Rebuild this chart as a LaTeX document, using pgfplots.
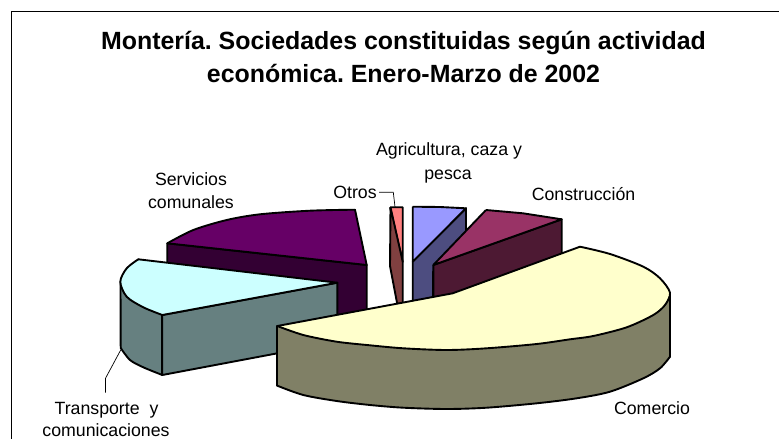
\documentclass[border=0pt]{standalone}
\usepackage{pgfplots}
\pgfplotsset{compat=1.18}
\usepackage{fontspec}
\setmainfont{Liberation Sans}
\definecolor{servT}{HTML}{660066}
\definecolor{servS}{HTML}{330033}
\definecolor{tranT}{HTML}{CCFFFF}
\definecolor{tranS}{HTML}{668080}
\definecolor{otroT}{HTML}{FF8080}
\definecolor{otroS}{HTML}{804040}
\definecolor{agriT}{HTML}{9999FF}
\definecolor{agriS}{HTML}{4D4D80}
\definecolor{consT}{HTML}{993366}
\definecolor{consS}{HTML}{4D1933}
\definecolor{comeT}{HTML}{FFFFCC}
\definecolor{comeS}{HTML}{808066}
\tikzset{
  wedge/.style={draw=black, line width=1.9pt, fill=#1, line join=round},
  area/.style={draw=none, fill=#1},
  edge/.style={draw=black, line width=1.9pt, line join=round, line cap=round},
  leader/.style={draw=black, line width=0.7pt},
  lab/.style={font=\fontsize{17.8}{20}\selectfont, text=black, anchor=base, inner sep=0pt},
  ttl/.style={font=\fontsize{25}{28}\selectfont\bfseries, text=black, anchor=base, inner sep=0pt},
}
\frenchspacing
\begin{document}
\begin{tikzpicture}
\begin{axis}[
  scale only axis, width=779bp, height=439bp,
  xmin=0, xmax=779, ymin=0, ymax=439, y dir=reverse,
  hide axis, clip=true,
]
% keep the whole image area in the bounding box
\path (axis cs:0,0) -- (axis cs:779,439);
% frame
\addplot[draw=black, line width=1pt] coordinates {(11,439) (11,11) (779,11)};

% Servicios comunales
\addplot[wedge=servS] coordinates {(167.3,243.3) (366.7,265) (366.7,322) (167.3,292) (167.3,243.3)};
\addplot[area=servT] coordinates {(167.3,243.3) (193.3,230) (226.7,220) (260,214.3) (310,210.7) (355,209.7) (366.7,265) (167.3,243.3)};
\addplot[edge, smooth] coordinates {(167.3,243.3) (193.3,230) (226.7,220) (260,214.3) (310,210.7) (355,209.7)};
\addplot[edge] coordinates {(355,209.7) (366.7,265) (167.3,243.3)};

% Transporte
\addplot[wedge=tranS] coordinates {(162.3,315) (337.3,282.7) (337.3,342) (162.3,375) (162.3,315)};
\addplot[area=tranS] coordinates {(120.3,281.7) (126.7,296.7) (143.3,307.3) (162.3,315) (162.3,375) (143.3,367.3) (130,360) (120.7,348) (120.3,281.7)};
\addplot[edge, smooth] coordinates {(120.7,348) (130,360) (143.3,367.3) (162.3,375)};
\addplot[edge] coordinates {(120.5,281.7) (120.7,348)};
\addplot[edge] coordinates {(162.3,315) (162.3,375)};
\addplot[area=tranT] coordinates {(138.3,259.3) (126.7,268.3) (120,281.7) (126.7,296.7) (143.3,307.3) (162.3,315) (337.3,282.7) (138.3,259.3)};
\addplot[edge, smooth] coordinates {(138.3,259.3) (126.7,268.3) (120.3,281.7) (126.7,296.7) (143.3,307.3) (162.3,315)};
\addplot[edge] coordinates {(162.3,315) (337.3,282.7) (138.3,259.3)};

% Otros
\addplot[wedge=otroT] coordinates {(390,207.3) (402.7,207.3) (402.7,262) (390,207.3)};
\addplot[wedge=otroS] coordinates {(390.5,207.3) (402.7,261.7) (402.7,308) (398,308) (390,266) (390.5,207.3)};

% Agricultura
\addplot[wedge=agriS] coordinates {(412.7,261.7) (466,208.3) (466,240) (433,272) (433,306) (412.7,306) (412.7,261.7)};
\addplot[wedge=agriT] coordinates {(412.7,206.7) (440,207) (466,208.3) (412.7,261.7) (412.7,206.7)};

% Construcción
\addplot[wedge=consS] coordinates {(433.3,265) (561.7,219.3) (561.7,259) (433.3,303) (433.3,265)};
\addplot[wedge=consT] coordinates {(486,210) (523,213.3) (561.7,219.3) (433.3,265) (486,210)};

% Comercio
\addplot[area=comeS] coordinates {(277.3,326) (277.3,385.7) (303.3,395) (336.7,401) (370,405) (403.3,407.7) (446.7,409) (486.7,407.7) (536.7,403.3) (576.7,398.3) (610,391.7) (643.3,378.3) (660,368.3) (670,356.7) (670,292.7) (450,345) (277.3,326)};
\addplot[edge, smooth] coordinates {(277.3,385.7) (303.3,395) (336.7,401) (370,405) (403.3,407.7) (446.7,409) (486.7,407.7) (536.7,403.3) (576.7,398.3) (610,391.7) (643.3,378.3) (660,368.3) (670,356.7)};
\addplot[edge] coordinates {(277.3,326) (277.3,385.7)};
\addplot[edge] coordinates {(670,292.7) (670,356.7)};
\addplot[area=comeT] coordinates {(277.3,326) (452.7,293.3) (580,246.7) (610,254) (643.3,266.7) (660,278.3) (670,292.7) (665,305) (653.3,315) (626.7,327.3) (593.3,336) (570,339.3) (536.7,344) (486.7,348.3) (446.7,350) (403.3,348.3) (370,345.3) (336.7,341.7) (303.3,335) (277.3,326)};
\addplot[edge, smooth] coordinates {(580,246.7) (610,254) (643.3,266.7) (660,278.3) (670,292.7) (665,305) (653.3,315) (626.7,327.3) (593.3,336) (570,339.3) (536.7,344) (486.7,348.3) (446.7,350) (403.3,348.3) (370,345.3) (336.7,341.7) (303.3,335) (277.3,326)};
\addplot[edge] coordinates {(277.3,326) (452.7,293.3) (580,246.7)};

% leader lines
\addplot[leader] coordinates {(379,192.3) (393.3,192.3) (395,207)};
\addplot[leader] coordinates {(120.7,350) (105.5,378.3) (105.5,392.7)};

% text
\node[ttl] at (axis cs:403.5,49.5) {Montería. Sociedades constituidas según actividad};
\node[ttl] at (axis cs:403.5,83) {económica. Enero-Marzo de 2002};
\node[lab] at (axis cs:449,155) {Agricultura, caza y};
\node[lab] at (axis cs:448,179) {pesca};
\node[lab] at (axis cs:583.5,200.7) {Construcción};
\node[lab] at (axis cs:355,198.3) {Otros};
\node[lab] at (axis cs:191,185) {Servicios};
\node[lab] at (axis cs:191,208) {comunales};
\node[lab] at (axis cs:106.5,414) {Transporte\ \ y};
\node[lab] at (axis cs:106,436.5) {comunicaciones};
\node[lab] at (axis cs:652,414) {Comercio};
\end{axis}
\end{tikzpicture}
\end{document}
